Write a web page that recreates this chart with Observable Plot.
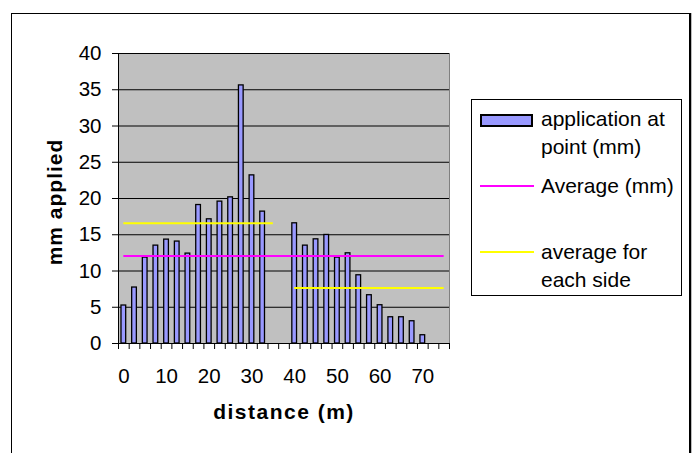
<!DOCTYPE html>
<html><head><meta charset="utf-8">
<script src="https://cdn.jsdelivr.net/npm/d3@7"></script>
<script src="https://cdn.jsdelivr.net/npm/@observablehq/plot@0.6"></script>
<style>
body{margin:0;background:#fff;}
#wrap{position:relative;width:697px;height:453px;overflow:hidden;font-family:"Liberation Sans",Arial,sans-serif;color:#000;}
#wrap svg{position:absolute;left:0;top:0;}
#border{position:absolute;left:11px;top:13px;width:677px;height:470px;border:1px solid #000;border-right:2px solid #000;box-shadow:1px 0 0 #bbb;}
#legend{position:absolute;left:471px;top:99px;width:211px;height:197px;border:1px solid #000;background:#fff;box-sizing:border-box;}
#legend .t{position:absolute;left:69px;font-size:21px;line-height:28px;white-space:nowrap;}
#legend .sw{position:absolute;left:8px;top:14px;width:53px;height:13px;background:#9999FF;border:2px solid #000;box-sizing:border-box;}
#legend .ln{position:absolute;left:8px;width:54px;height:2px;}
.ytitle text{letter-spacing:1px;}
.xtitle text{letter-spacing:1.5px;}
</style></head>
<body>
<div id="wrap"><div id="border"></div></div>
<script>
// categories on the axis (distance, m)
const axisCategories = [0,2.5,5,7.5,10,12.5,15,17.5,20,22.5,25,27.5,30,32.5,35,37.5,40,42.5,45,47.5,50,52.5,55,57.5,60,62.5,65,67.5,70,72.5,75];
// measured points
const distances = [0,2.5,5,7.5,10,12.5,15,17.5,20,22.5,25,27.5,30,32.5,40,42.5,45,47.5,50,52.5,55,57.5,60,62.5,65,67.5,70];
const applied   = [5.24,7.72,11.85,13.5,14.33,14.06,12.4,19.1,17.13,19.57,20.16,35.6,23.19,18.19,16.58,13.5,14.37,14.97,11.85,12.44,9.41,6.66,5.28,3.62,3.62,3.07,1.14];
const xLabelTicks = [0,10,20,30,40,50,60,70];
const yTicks = [0,5,10,15,20,25,30,35,40];
// averages
const overallAverage = [12.07];
const overallFrom = [0], overallTo = [75];
const sideAverage = [16.58, 7.66];
const sideFrom = [0, 40], sideTo = [35, 75];

const step = 2.5;
const bounds = [...axisCategories.map(c => c - step/2), axisCategories[axisCategories.length-1] + step/2];
const data = distances.map((d,i) => ({d, v: applied[i]}));
const font = '"Liberation Sans", Arial, sans-serif';

const chart = Plot.plot({
  width: 697, height: 453,
  marginLeft: 118, marginRight: 248, marginTop: 53, marginBottom: 110,
  style: {fontFamily: font, fontSize: "20.5px", color: "#000", background: "transparent", overflow: "visible"},
  x: {type: "linear", domain: [bounds[0], bounds[bounds.length-1]]},
  y: {domain: [0, 40]},
  marks: [
    Plot.frame({fill: "#C0C0C0", stroke: "#808080"}),
    Plot.gridY(yTicks.slice(1), {stroke: "#000", strokeOpacity: 1}),
    Plot.rect(data, {x1: d => d.d - 0.55, x2: d => d.d + 0.55, y1: 0, y2: "v", fill: "#9999FF", stroke: "#000", strokeWidth: 1.3}),
    Plot.ruleY(overallAverage, {y: d => d, x1: (d,i) => overallFrom[i], x2: (d,i) => overallTo[i], stroke: "#FF00FF", strokeWidth: 2}),
    Plot.ruleY(sideAverage, {y: d => d, x1: (d,i) => sideFrom[i], x2: (d,i) => sideTo[i], stroke: "#FFFF00", strokeWidth: 2}),
    Plot.ruleX([bounds[0]], {stroke: "#000"}),
    Plot.ruleY([0], {stroke: "#000"}),
    Plot.axisY({ticks: yTicks, tickSize: 6, tickPadding: 11, label: null}),
    Plot.axisX({ticks: bounds, tickSize: 6, tickFormat: () => "", label: null}),
    Plot.axisX({ticks: xLabelTicks, tickSize: 0, tickPadding: 25, label: null}),
    Plot.text(["mm applied"], {text: d => d, frameAnchor: "left", textAnchor: "middle", lineAnchor: "middle", dx: -63, dy: 3.5, rotate: -90, fontWeight: "bold", fontSize: 21, className: "ytitle"}),
    Plot.text(["distance (m)"], {text: d => d, frameAnchor: "bottom", textAnchor: "middle", lineAnchor: "middle", dy: 68.5, fontWeight: "bold", fontSize: 21, className: "xtitle"})
  ]
});
const wrap = document.getElementById("wrap");
wrap.appendChild(chart);

const legend = document.createElement("div");
legend.id = "legend";
legend.innerHTML = `
  <div class="sw"></div>
  <div class="t" style="top:5px">application at<br>point (mm)</div>
  <div class="ln" style="top:85px;background:#FF00FF"></div>
  <div class="t" style="top:72px">Average (mm)</div>
  <div class="ln" style="top:151px;background:#FFFF00"></div>
  <div class="t" style="top:138px">average for<br>each side</div>`;
wrap.appendChild(legend);
</script>
</body></html>
